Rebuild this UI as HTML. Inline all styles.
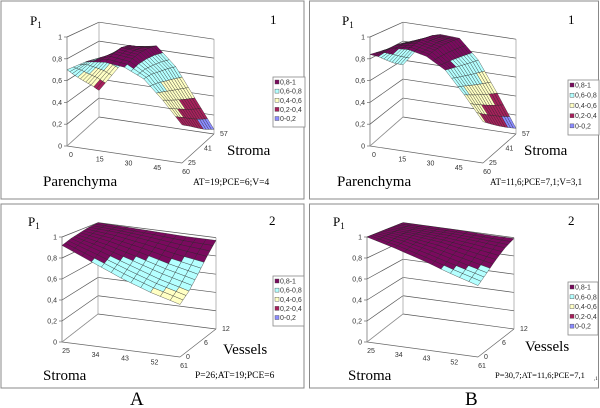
<!DOCTYPE html>
<html><head><meta charset="utf-8">
<style>
body{margin:0;background:#fff;width:600px;height:408px;overflow:hidden}
svg{display:block}
.s{font-family:"Liberation Serif",serif}
.t{font-family:"Liberation Sans",sans-serif;font-size:7px;fill:#333}
</style></head>
<body>
<svg id="chart" width="600" height="408" viewBox="0 0 600 408">
<rect x="1" y="1" width="303" height="198" fill="none" stroke="#888"/>
<rect x="1" y="204" width="303" height="184" fill="none" stroke="#888"/>
<rect x="309.5" y="1" width="289" height="198" fill="none" stroke="#888"/>
<rect x="309.5" y="204" width="289" height="184" fill="none" stroke="#888"/>
<text class="s" x="130" y="405" font-size="19" font-family="Liberation Serif, serif">A</text>
<text class="s" x="465" y="405" font-size="19" font-family="Liberation Serif, serif">B</text>
</svg>
<script>
// Data arrays
const zTicks = ["0","0,2","0,4","0,6","0,8","1"];
const parenchymaTicks = ["0","15","30","45","60"];
const stromaDepthTicks = ["25","41","57"];
const stromaTicks = ["25","34","43","52","61"];
const vesselsTicks = ["0","6","12"];
const legendLabels = ["0,8-1","0,6-0,8","0,4-0,6","0,2-0,4","0-0,2"];
const bandColors = ["#7a0a5e","#b4ffff","#ffffc4","#a8205c","#8c8cff"];
// P1 grids: rows = depth axis (front→back), cols = horizontal axis
const a1Values = [
 [0.70,0.80,0.82,0.80,0.72,0.55,0.35],
 [0.60,0.78,0.86,0.84,0.72,0.50,0.28],
 [0.50,0.72,0.88,0.86,0.70,0.45,0.20],
 [0.40,0.65,0.86,0.86,0.68,0.40,0.12],
 [0.28,0.55,0.80,0.84,0.65,0.35,0.05]];
const b1Values = [
 [0.84,0.92,0.94,0.90,0.80,0.60,0.38],
 [0.78,0.92,0.96,0.92,0.78,0.55,0.30],
 [0.70,0.90,0.97,0.93,0.76,0.50,0.22],
 [0.62,0.86,0.96,0.93,0.74,0.45,0.14],
 [0.55,0.80,0.93,0.92,0.72,0.40,0.06]];
const a2Values = [
 [0.92,0.80,0.68,0.58,0.50],
 [0.95,0.86,0.76,0.66,0.58],
 [0.97,0.92,0.85,0.77,0.70],
 [0.99,0.97,0.93,0.88,0.84],
 [1.00,0.99,0.98,0.97,0.97]];
const b2Values = [
 [1.00,0.93,0.85,0.76,0.68],
 [1.00,0.96,0.90,0.83,0.76],
 [1.00,0.98,0.95,0.90,0.85],
 [1.00,0.99,0.98,0.96,0.93],
 [1.00,1.00,1.00,0.99,0.99]];

const NS="http://www.w3.org/2000/svg";
const svg=document.getElementById('chart');
function mk(tag,attrs,parent){const e=document.createElementNS(NS,tag);for(const k in attrs)e.setAttribute(k,attrs[k]);(parent||svg).appendChild(e);return e;}
function band(v){return v>=0.8?0:v>=0.6?1:v>=0.4?2:v>=0.2?3:4;}

function panel(cfg){
 const g=mk('g',{});
 
 
 const O=cfg.O,X=cfg.X,D=cfg.D,H=cfg.H;
 function P(u,v,w){return [O[0]+u*X[0]+v*D[0], O[1]+u*X[1]+v*D[1]-w*H*(1-0.13*v)];}
 function line(a,b,col,nm){const l=mk('line',{x1:a[0],y1:a[1],x2:b[0],y2:b[1],stroke:col,'stroke-width':0.7},g);}
 for(let k=0;k<zTicks.length;k++){const w=k/(zTicks.length-1);
  line(P(0,0,w),P(0,1,w),'#555','left-wall-gridline');
  line(P(0,1,w),P(1,1,w),'#555','back-wall-gridline');}
 line(P(0,1,0),P(0,1,1),'#999','back-wall-edge');
 line(P(1,1,0),P(1,1,1),'#999','back-wall-edge');
 line(P(0,0,0),P(0,0,1),'#666','z-axis');
 line(P(0,0,0),P(1,0,0),'#666','x-axis');
 line(P(1,0,0),P(1,1,0),'#666','depth-axis');
 line(P(0,0,0),P(0,1,0),'#999','floor-edge');
 zTicks.forEach((s,k)=>{const p=P(0,0,k/(zTicks.length-1));const t=mk('text',{x:p[0]-5,y:p[1]+2.5,'text-anchor':'end',class:'t'},g);t.textContent=s;line([p[0]-3,p[1]],p,'#666','z-tick');});
 cfg.xt.forEach((s,k)=>{const p=P(k/(cfg.xt.length-1),0,0);const t=mk('text',{x:p[0]+4,y:p[1]+11,'text-anchor':'middle',class:'t'},g);t.textContent=s;});
 cfg.dt.forEach((s,k)=>{const p=P(1,k/(cfg.dt.length-1),0);const t=mk('text',{x:p[0]+6,y:p[1]+2,class:'t'},g);t.textContent=s;});
 const Z=cfg.data,nr=Z.length,nc=Z[0].length,S=3;
 function val(r,c){const r0=Math.min(Math.floor(r),nr-2),c0=Math.min(Math.floor(c),nc-2);const fr=r-r0,fc=c-c0;
  return Z[r0][c0]*(1-fr)*(1-fc)+Z[r0][c0+1]*(1-fr)*fc+Z[r0+1][c0]*fr*(1-fc)+Z[r0+1][c0+1]*fr*fc;}
 const R=(nr-1)*S,C=(nc-1)*S;
 for(let r=R-1;r>=0;r--){for(let c=0;c<C;c++){
  const pts=[[c,r],[c+1,r],[c+1,r+1],[c,r+1]].map(([cc,rr])=>{const v=val(rr/S,cc/S);return P(cc/C,rr/R,v).concat([v]);});
  const avg=(pts[0][2]+pts[1][2]+pts[2][2]+pts[3][2])/4;
  const poly=mk('polygon',{points:pts.map(p=>p[0].toFixed(1)+','+p[1].toFixed(1)).join(' '),fill:bandColors[band(avg)],stroke:'#222','stroke-width':0.35},g);
  
  
 }}
 const L=cfg.leg;
 const lb=mk('rect',{x:L[0],y:L[1],width:L[2],height:L[3],fill:'#fff',stroke:'#888','stroke-width':0.8},g);
 
 legendLabels.forEach((s,k)=>{const y=L[1]+6+k*(L[3]-8)/4.6;
  const sw=mk('rect',{x:L[0]+2,y:y-3,width:4,height:4,fill:bandColors[k],stroke:'#444','stroke-width':0.4},g);
  
  const t=mk('text',{x:L[0]+7,y:y+1.5,class:'t','font-size':'6.5px'},g);t.textContent=s;
  });
 cfg.labels.forEach(([s,x,y,fs,nm])=>{const t=mk('text',{x:x,y:y,'font-size':fs,class:'s','font-family':'Liberation Serif, serif'},g);t.textContent=s;});
 const p1=mk('text',{x:cfg.p1[0],y:cfg.p1[1],'font-size':13,class:'s','font-family':'Liberation Serif, serif'},g);p1.innerHTML='P<tspan font-size="9" dy="3">1</tspan>';
 
}

panel({name:'panel-a1',O:[67,146],X:[115,17],D:[32,-29],H:109,data:a1Values,xt:parenchymaTicks,dt:stromaDepthTicks,leg:[273,77,32,50],p1:[30,25],
 labels:[["1",270,24,13,'panel-number'],["Stroma",227,155,15,'depth-axis-title'],["Parenchyma",43,186,15,'x-axis-title'],["AT=19;PCE=6;V=4",193,185,9.5,'parameters-note']]});
panel({name:'panel-b1',O:[370,146],X:[113,17],D:[33,-29],H:109,data:b1Values,xt:parenchymaTicks,dt:stromaDepthTicks,leg:[568,80,31,55],p1:[342,25],
 labels:[["1",568,24,13,'panel-number'],["Stroma",524,155,15,'depth-axis-title'],["Parenchyma",337,186,15,'x-axis-title'],["AT=11,6;PCE=7,1;V=3,1",490,185,9,'parameters-note']]});
panel({name:'panel-a2',O:[62,342],X:[118,15],D:[36,-28],H:105,data:a2Values,xt:stromaTicks,dt:vesselsTicks,leg:[273,276,31,50],p1:[28,226],
 labels:[["2",269,225,13,'panel-number'],["Vessels",223,354,15,'depth-axis-title'],["Stroma",43,380,15,'x-axis-title'],["P=26;AT=19;PCE=6",195,378,9.5,'parameters-note']]});
panel({name:'panel-b2',O:[367,342],X:[111,15],D:[36,-28],H:105,data:b2Values,xt:stromaTicks,dt:vesselsTicks,leg:[568,282,30,53],p1:[333,226],
 labels:[["2",568,225,13,'panel-number'],["Vessels",525,351,15,'depth-axis-title'],["Stroma",348,380,15,'x-axis-title'],["P=30,7;AT=11,6;PCE=7,1",495,378,8.5,'parameters-note'],[",1",594,380,5,'footnote-mark']]});
</script>
</body></html>
